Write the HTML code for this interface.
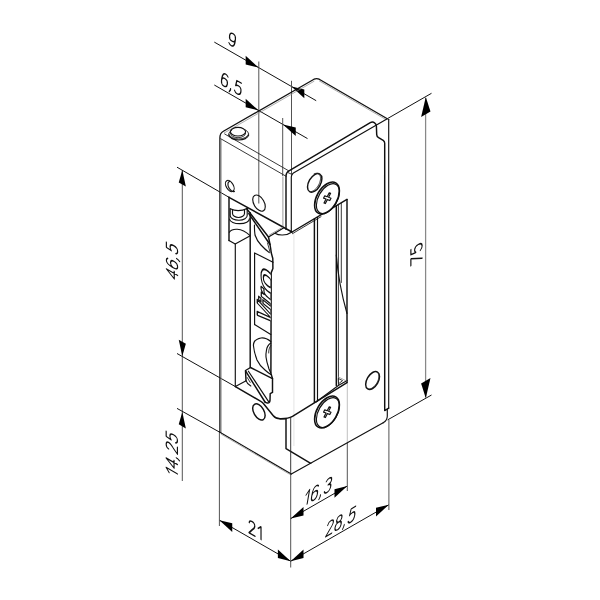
<!DOCTYPE html>
<html><head><meta charset="utf-8"><title>drawing</title>
<style>
html,body{margin:0;padding:0;background:#fff;font-family:"Liberation Sans",sans-serif;}
svg{display:block}
.k{fill:none;stroke:#111;stroke-width:1.45;stroke-linecap:round;stroke-linejoin:round}
.m{fill:none;stroke:#222;stroke-width:0.9;stroke-linecap:round;stroke-linejoin:round}
.g{fill:none;stroke:#8a8a8a;stroke-width:0.7;stroke-linecap:round}
.d{fill:none;stroke:#111;stroke-width:1.0}
.e{fill:none;stroke:#4a4a4a;stroke-width:0.95}
.e2{fill:none;stroke:#888;stroke-width:1.25}
.gd{fill:none;stroke:#bbb;stroke-width:0.8;stroke-dasharray:1 1}
.g3{fill:none;stroke:#999;stroke-width:1.0}
.g2{fill:none;stroke:#b0b0b0;stroke-width:0.8}
.kb{fill:none;stroke:#111;stroke-width:1.3;stroke-linecap:round;stroke-linejoin:round}
.k1{fill:none;stroke:#111;stroke-width:1.15;stroke-linecap:round;stroke-linejoin:round}
.a{fill:#000;stroke:none}
.t{fill:none;stroke:#111;stroke-linecap:round;stroke-linejoin:round}
.w{fill:#fff;stroke:#111;stroke-width:1.6}
</style></head><body>
<svg width="600" height="600" viewBox="0 0 600 600">
<rect width="600" height="600" fill="#fff"/>
<line class="d" x1="214.30" y1="42.10" x2="316.20" y2="100.69"/>
<polygon class="a" points="258.50,67.51 245.67,64.44 245.67,55.84"/>
<polygon class="a" points="291.50,86.49 304.33,98.17 304.33,89.57"/>
<line class="e" x1="258.80" y1="61.50" x2="258.80" y2="203.50"/>
<line class="e" x1="291.50" y1="80.80" x2="291.50" y2="174.00"/>
<line class="d" x1="214.30" y1="85.00" x2="307.50" y2="138.59"/>
<polygon class="a" points="258.50,110.41 245.67,107.34 245.67,98.74"/>
<polygon class="a" points="282.90,124.44 295.73,136.12 295.73,127.52"/>
<line class="e" x1="282.70" y1="118.00" x2="282.70" y2="176.00"/>
<line class="e2" x1="425.60" y1="98.00" x2="425.60" y2="397.00"/>
<polygon class="a" points="425.80,96.90 430.48,111.60 421.12,117.00"/>
<polygon class="a" points="425.80,398.20 430.48,378.10 421.12,383.50"/>
<line class="d" x1="388.00" y1="118.30" x2="431.50" y2="93.29"/>
<line class="d" x1="387.60" y1="419.90" x2="431.50" y2="395.00"/>
<line class="e" x1="182.30" y1="170.00" x2="182.30" y2="481.00"/>
<polygon class="a" points="182.30,170.00 185.85,186.55 178.75,182.45"/>
<polygon class="a" points="182.30,356.30 185.85,343.85 178.75,339.75"/>
<polygon class="a" points="182.30,411.90 185.85,428.45 178.75,424.35"/>
<line class="d" x1="177.00" y1="167.20" x2="229.00" y2="197.30"/>
<line class="d" x1="177.00" y1="353.50" x2="235.40" y2="386.60"/>
<line class="d" x1="177.00" y1="408.40" x2="219.90" y2="432.30"/>
<line class="d" x1="219.40" y1="520.20" x2="290.70" y2="561.20"/>
<polygon class="a" points="219.40,520.20 232.23,531.88 232.23,523.28"/>
<polygon class="a" points="290.70,561.20 277.87,558.12 277.87,549.52"/>
<line class="e" x1="219.40" y1="431.00" x2="219.40" y2="526.00"/>
<line class="e" x1="290.70" y1="474.00" x2="290.70" y2="567.50"/>
<line class="d" x1="290.70" y1="561.20" x2="388.80" y2="504.79"/>
<polygon class="a" points="290.70,561.20 303.53,558.12 303.53,549.52"/>
<polygon class="a" points="388.80,504.79 375.97,516.47 375.97,507.87"/>
<line class="e" x1="388.90" y1="420.00" x2="388.90" y2="510.00"/>
<line class="d" x1="290.70" y1="518.60" x2="347.30" y2="486.06"/>
<polygon class="a" points="290.70,518.60 303.53,515.52 303.53,506.92"/>
<polygon class="a" points="347.30,486.06 334.47,497.73 334.47,489.13"/>
<g class="t" stroke-width="1.038" transform="matrix(1.1258 0.6500 0.1689 -1.2025 231.46 45.71)"><path d="M0.7,1.2 C1.2,0.4 2,0 2.9,0 C4.6,0 5.6,1.6 5.6,5 L5.6,6.8 C5.6,8.7 4.6,10 3,10 C1.4,10 0.4,8.7 0.4,6.8 C0.4,5 1.4,3.7 3,3.7 C4.4,3.7 5.4,4.7 5.6,6" transform="translate(-3.10 0)"/></g>
<g class="t" stroke-width="1.038" transform="matrix(1.1258 0.6500 0.1689 -1.2025 230.66 90.01)"><path d="M5.3,8.8 C4.8,9.6 4,10 3.1,10 C1.4,10 0.4,8.4 0.4,5 L0.4,3.2 C0.4,1.3 1.4,0 3,0 C4.6,0 5.6,1.3 5.6,3.2 C5.6,5 4.6,6.3 3,6.3 C1.6,6.3 0.6,5.3 0.4,4" transform="translate(-9.00 0)"/><path d="M1.0,1.0 L1.0,0 L0.2,-1.8" transform="translate(-1.20 0)"/><path d="M5.2,10 L1.2,10 L0.8,5.6 C1.5,6.4 2.3,6.7 3.2,6.7 C4.8,6.7 5.8,5.3 5.8,3.3 C5.8,1.4 4.7,0 3,0 C1.8,0 0.9,0.6 0.4,1.6" transform="translate(2.80 0)"/></g>
<g class="t" stroke-width="1.038" transform="matrix(0.0000 -1.3000 -1.1258 0.6500 422.13 250.75)"><path d="M0.3,10 L5.7,10 L1.2,0" transform="translate(-6.90 0)"/><path d="M5.2,10 L1.2,10 L0.8,5.6 C1.5,6.4 2.3,6.7 3.2,6.7 C4.8,6.7 5.8,5.3 5.8,3.3 C5.8,1.4 4.7,0 3,0 C1.8,0 0.9,0.6 0.4,1.6" transform="translate(0.70 0)"/></g>
<g class="t" stroke-width="1.038" transform="matrix(0.0000 -1.3000 -1.1258 -0.6500 177.63 264.25)"><path d="M4.4,0 L4.4,10 L0.2,3 L6,3" transform="translate(-13.00 0)"/><path d="M5.3,8.8 C4.8,9.6 4,10 3.1,10 C1.4,10 0.4,8.4 0.4,5 L0.4,3.2 C0.4,1.3 1.4,0 3,0 C4.6,0 5.6,1.3 5.6,3.2 C5.6,5 4.6,6.3 3,6.3 C1.6,6.3 0.6,5.3 0.4,4" transform="translate(-5.00 0)"/><path d="M1.0,1.0 L1.0,0 L0.2,-1.8" transform="translate(2.80 0)"/><path d="M5.2,10 L1.2,10 L0.8,5.6 C1.5,6.4 2.3,6.7 3.2,6.7 C4.8,6.7 5.8,5.3 5.8,3.3 C5.8,1.4 4.7,0 3,0 C1.8,0 0.9,0.6 0.4,1.6" transform="translate(6.80 0)"/></g>
<g class="t" stroke-width="1.038" transform="matrix(0.0000 -1.3000 -1.1258 -0.6500 177.43 457.25)"><path d="M0.6,7.4 L3.2,10 L3.2,0" transform="translate(-16.00 0)"/><path d="M4.4,0 L4.4,10 L0.2,3 L6,3" transform="translate(-10.00 0)"/><path d="M1.0,1.0 L1.0,0 L0.2,-1.8" transform="translate(-2.00 0)"/><path d="M0.5,7.8 C0.6,9.1 1.6,10 3,10 C4.5,10 5.5,9.1 5.5,7.7 C5.5,6.3 4.6,5.2 3.2,3.7 L0.3,0 L5.7,0" transform="translate(2.00 0)"/><path d="M5.2,10 L1.2,10 L0.8,5.6 C1.5,6.4 2.3,6.7 3.2,6.7 C4.8,6.7 5.8,5.3 5.8,3.3 C5.8,1.4 4.7,0 3,0 C1.8,0 0.9,0.6 0.4,1.6" transform="translate(9.80 0)"/></g>
<g class="t" stroke-width="1.038" transform="matrix(1.1258 0.6500 0.0000 -1.3000 255.50 536.50)"><path d="M0.5,7.8 C0.6,9.1 1.6,10 3,10 C4.5,10 5.5,9.1 5.5,7.7 C5.5,6.3 4.6,5.2 3.2,3.7 L0.3,0 L5.7,0" transform="translate(-6.10 0)"/><path d="M0.6,7.4 L3.2,10 L3.2,0" transform="translate(1.70 0)"/></g>
<g class="t" stroke-width="1.038" transform="matrix(1.1258 -0.6500 0.2477 -1.4430 317.06 498.21)"><path d="M0.6,7.4 L3.2,10 L3.2,0" transform="translate(-12.00 0)"/><path d="M5.3,8.8 C4.8,9.6 4,10 3.1,10 C1.4,10 0.4,8.4 0.4,5 L0.4,3.2 C0.4,1.3 1.4,0 3,0 C4.6,0 5.6,1.3 5.6,3.2 C5.6,5 4.6,6.3 3,6.3 C1.6,6.3 0.6,5.3 0.4,4" transform="translate(-6.00 0)"/><path d="M1.0,1.0 L1.0,0 L0.2,-1.8" transform="translate(1.80 0)"/><path d="M0.5,8.7 C1,9.5 1.9,10 3,10 C4.5,10 5.4,9 5.4,7.7 C5.4,6.3 4.5,5.5 2.8,5.5 C4.7,5.5 5.7,4.3 5.7,2.8 C5.7,1.2 4.6,0 3,0 C1.8,0 0.8,0.6 0.3,1.7" transform="translate(5.80 0)"/></g>
<g class="t" stroke-width="1.038" transform="matrix(1.1258 -0.6500 0.2477 -1.4430 339.76 528.51)"><path d="M0.5,7.8 C0.6,9.1 1.6,10 3,10 C4.5,10 5.5,9.1 5.5,7.7 C5.5,6.3 4.6,5.2 3.2,3.7 L0.3,0 L5.7,0" transform="translate(-12.90 0)"/><path d="M3,5.5 C1.6,5.5 0.7,6.4 0.7,7.7 C0.7,9 1.6,10 3,10 C4.4,10 5.3,9 5.3,7.7 C5.3,6.4 4.4,5.5 3,5.5 C1.4,5.5 0.3,4.4 0.3,2.8 C0.3,1.2 1.4,0 3,0 C4.6,0 5.7,1.2 5.7,2.8 C5.7,4.4 4.6,5.5 3,5.5" transform="translate(-5.10 0)"/><path d="M1.0,1.0 L1.0,0 L0.2,-1.8" transform="translate(2.70 0)"/><path d="M5.2,10 L1.2,10 L0.8,5.6 C1.5,6.4 2.3,6.7 3.2,6.7 C4.8,6.7 5.8,5.3 5.8,3.3 C5.8,1.4 4.7,0 3,0 C1.8,0 0.9,0.6 0.4,1.6" transform="translate(6.70 0)"/></g>
<line class="gd" x1="293.90" y1="233.50" x2="293.90" y2="446.00"/>
<line class="g3" x1="282.90" y1="176.50" x2="282.90" y2="226.50"/>
<line class="g2" x1="347.30" y1="382.00" x2="347.30" y2="443.00"/>
<line class="e" x1="347.30" y1="443.00" x2="347.30" y2="491.00"/>
<path class="kb" d="M219.9,432.3 L219.9,137.5 Q219.9,133.2 223.4,131.2 L314.0,79.2 Q316.6,77.9 319.2,79.2 L387.3,118.7" />
<line class="g" x1="221.30" y1="139.50" x2="221.30" y2="432.80"/>
<path class="g" d="M224.3,132.9 L314,81.3" />
<path class="g" d="M319.4,81.0 L385.8,119.5" />
<line class="m" x1="220.70" y1="138.70" x2="286.20" y2="176.36"/>
<line class="m" x1="224.70" y1="134.00" x2="288.50" y2="170.69"/>
<path class="k1" d="M388.7,119.2 L388.7,408.0" />
<path class="k1" d="M387.3,409.4 L387.3,416.3 Q387.2,420.6 383.2,422.8" />
<line class="k1" x1="219.90" y1="432.30" x2="291.30" y2="474.00"/>
<line class="g" x1="221.50" y1="434.40" x2="289.50" y2="474.20"/>
<line class="k1" x1="291.30" y1="474.00" x2="383.20" y2="422.80"/>
<path class="k1" d="M228.8,135.2 A10.0,5.6 0 0 0 248.6,135.2" />
<path class="m" d="M228.8,134.2 A10.0,5.6 0 0 0 248.6,134.2" />
<path class="m" d="M228.8,135.2 L228.8,134.0 A10.0,5.6 0 0 1 231.6,130.2" />
<path class="m" d="M248.6,135.2 L248.6,134.0 A10.0,5.6 0 0 0 245.6,130.0" />
<ellipse class="k1" cx="238.00" cy="131.70" rx="7.60" ry="4.30" transform="rotate(0 238.00 131.70)" />
<path class="m" d="M230.4,132.0 A7.6,4.3 0 0 0 245.6,132.0" transform="translate(0 1.4)"/>
<ellipse class="k1" cx="229.80" cy="186.00" rx="6.12" ry="3.54" transform="rotate(60 229.80 186.00)" />
<path class="k1" d="M234.45,191.47 L234.01,191.58 L233.53,191.60 L233.02,191.52 L232.49,191.35 L231.95,191.08 L231.41,190.72 L230.87,190.29 L230.36,189.78 L229.87,189.21 L229.43,188.58 L229.03,187.92 L228.68,187.23 L228.40,186.53 L228.19,185.83 L228.04,185.14 L227.97,184.47 L227.97,183.84 L228.05,183.27 L228.20,182.76 L228.42,182.31 L228.71,181.95 L229.06,181.67 L229.46,181.49 L229.91,181.40" />
<ellipse class="k1" cx="259.00" cy="203.10" rx="8.88" ry="5.13" transform="rotate(60 259.00 203.10)" />
<ellipse class="k" cx="258.90" cy="411.90" rx="8.82" ry="5.09" transform="rotate(60 258.90 411.90)" />
<line class="k" x1="229.00" y1="197.30" x2="292.00" y2="232.00"/>
<path class="k" d="M229.0,197.3 L229.0,240.4" />
<path class="k1" d="M235.3,244.0 L235.3,386.6" />
<path class="k1" d="M235.4,386.6 L245.7,381.0" />
<path class="k" d="M235.4,386.6 L260.4,401.2 Q262.6,402.4 264.0,404.2 L273.3,415.8 Q275.8,418.8 280,418.8 L286,418.7" />
<path class="k1" d="M229.0,240.4 L235.2,244.0 L249.8,236.0" />
<path class="k1" d="M230.2,208.8 Q238.5,212.6 247.2,208.4" />
<path class="k1" d="M232.5,210.2 L232.5,213.5 A6.0,4.0 0 0 0 244.5,213.5 L244.5,209.8" />
<path class="k1" d="M230.2,208.8 L230.2,215.8 A8.5,4.6 0 0 0 247.2,215.4 L247.2,208.4" />
<path class="k1" d="M229.6,219.2 A9.8,4.6 0 0 0 249.4,218.8" />
<path class="k1" d="M229.4,232.2 C232,228.3 241,227.2 249.8,235.4" />
<line class="k" x1="250.20" y1="212.60" x2="250.20" y2="367.30"/>
<path class="k" d="M246.5,208.5 L268.5,237.0 L283.4,228.0" />
<line class="g3" x1="268.90" y1="235.30" x2="282.60" y2="227.30"/>
<path class="k" d="M248.8,213.6 L270.0,244.5" />
<line class="m" x1="267.50" y1="243.00" x2="270.00" y2="252.00"/>
<path class="k1" d="M254.5,225 C254.3,229 254.6,232 255,235 C256.5,239.5 258.5,242.5 261,245 C263.5,247.8 266.5,250.5 269.3,252.6" />
<path class="k" d="M268.5,237 L270,244.5 L270.6,248 L271.3,253 L272.8,258.5 L272.9,268.5 L271.2,272.6 L270.9,373.2 L272.5,378.6" />
<path class="k1" d="M254.6,324.6 L254.6,252.9 L273.0,262.3" />
<path class="k1" d="M254.6,324.6 L270.8,334.4" />
<clipPath id="lc"><polygon points="240,240 269,240 270.3,253 272.6,259 272.6,268.4 270.8,272.6 270.5,340 240,340"/></clipPath>
<g clip-path="url(#lc)" fill="#fff" stroke="#111" stroke-linejoin="round"><path d="M737 0H398L171 1409H476L590 504Q606 357 612 238Q659 344 687.5 405.0Q716 466 1201 1409H1509Z" stroke-width="117.2" transform="matrix(0 -0.0117 -0.01212 -0.00700 274.4 327.0)"/><path d="M282 1277 323 1484H604L563 1277ZM35 0 245 1082H526L315 0Z" stroke-width="121.5" transform="matrix(0 -0.0125 -0.01057 -0.00610 274.4 313.0)"/><path d="M844 853Q775 868 730 868Q607 868 529.5 781.0Q452 694 417 514L316 0H35L196 830Q220 950 238 1082H506L484 910L476 861H480Q553 995 624.0 1048.5Q695 1102 787 1102Q834 1102 890 1088Z" stroke-width="103.5" transform="matrix(0 -0.015 -0.01212 -0.00700 274.4 307.5)"/><path d="M1185 683Q1185 476 1103.5 315.0Q1022 154 872.5 67.0Q723 -20 535 -20Q317 -20 190.0 97.5Q63 215 63 419Q63 620 142.5 775.0Q222 930 369.0 1015.5Q516 1101 704 1101Q939 1101 1062.0 991.5Q1185 882 1185 683ZM891 662Q891 909 683 909Q569 909 501.5 849.0Q434 789 396.0 666.5Q358 544 358 431Q358 172 566 172Q678 172 743.5 228.5Q809 285 846.5 400.0Q884 515 891 662Z" stroke-width="93.5" transform="matrix(0 -0.0184 -0.01212 -0.00700 274.4 296.5)"/></g>
<path class="k1" d="M270.8,341.5 C267,338.5 263.5,337.6 261,338 C256,339 253,342 253.5,346 C254,351 255.5,356 257,360 C259,364.5 262,367.5 265,370 C267,371.8 269,373.5 270.8,374.5" />
<path class="k1" d="M270.8,343 C268,345 266.8,347.5 266.5,350 C266,352.5 265.8,354.5 266,357 C266.5,361.5 267.8,365.5 269,369 L270.8,373" />
<path class="m" d="M270.8,345.5 C269.3,347.5 268.6,350 268.7,353" />
<path class="k" d="M250.5,367.5 L245.5,370.5 L246.0,380.6" />
<path class="k" d="M250.5,367.5 L272.5,378.6 L272.5,392.4 L270.2,393.6 L270.0,400.4 Q269.8,403.2 267.4,403.0 Q265.8,402.8 265.0,402.0" />
<path class="k" d="M245.7,371.2 L265.0,402.0" />
<path class="k1" d="M248.4,371.2 L268.6,401.6" />
<path class="k1" d="M246.0,380.6 C246.8,383 248.5,384.8 250.8,386.0" />
<path class="m" d="M247.2,377.5 L250.2,382.4" />
<path class="k" d="M286.0,229.2 L286.0,176.0 Q286.0,172.6 289.0,170.9 L370.3,122.6 Q372.6,121.4 374.6,122.8 Q376.4,124.0 376.4,126.2 L376.7,134.6 Q376.8,136.6 378.6,137.6 L383.2,140.4 Q384.7,141.4 384.7,143.2 L384.7,410.6 L388.7,408.2" />
<path class="k1" d="M291.3,231.2 L291.3,177.0 Q291.3,174.4 293.4,173.1 L387.3,118.7" />
<line class="m" x1="288.00" y1="172.60" x2="292.40" y2="174.60"/>
<path class="k1" d="M275.5,233.5 C278,235.3 286,236.3 292,232" />
<line class="k" x1="292.00" y1="232.00" x2="347.00" y2="199.40"/>
<line class="m" x1="292.40" y1="233.70" x2="321.00" y2="216.70"/>
<line class="k" x1="347.00" y1="199.40" x2="347.00" y2="382.20"/>
<line class="k" x1="314.40" y1="219.00" x2="314.40" y2="402.60"/>
<line class="k1" x1="317.50" y1="217.50" x2="317.50" y2="401.00"/>
<line class="k" x1="336.30" y1="206.00" x2="336.30" y2="385.60"/>
<line class="m" x1="338.40" y1="205.00" x2="338.40" y2="385.00"/>
<line class="m" x1="341.30" y1="203.40" x2="341.30" y2="282.50"/>
<path class="k1" d="M336.3,255.0 C337.3,268 340.6,291 347.0,313.5" />
<path class="k" d="M280.0,418.7 C285,418.8 289,418.4 292.5,416.4 L347.0,382.6" />
<path class="k1" d="M316.0,402.0 L338.7,385.2 L347.2,380.6" />
<path class="k" d="M286.0,419.0 L286.0,448.7 L310.7,463.3" />
<line class="m" x1="290.70" y1="417.50" x2="290.70" y2="474.00"/>
<path class="m" d="M338.6,378.6 L342.6,380.6 L338.8,383.6 Z" />
<path class="g" d="M338.4,377.0 L346.5,381.0" />
<ellipse class="k" cx="314.70" cy="182.90" rx="10.17" ry="5.87" transform="rotate(-60 314.70 182.90)" />
<path class="m" d="M314.04,173.94 L315.01,173.55 L315.95,173.33 L316.84,173.29 L317.67,173.43 L318.41,173.73 L319.06,174.21 L319.60,174.84 L320.03,175.62 L320.32,176.53 L320.49,177.55 L320.52,178.67 L320.41,179.86 L320.17,181.10 L319.80,182.37 L319.31,183.64 L318.71,184.89 L318.00,186.09 L317.21,187.22 L316.35,188.27 L315.42,189.20 L314.46,190.01 L313.48,190.67 L312.50,191.18 L311.54,191.52" />
<ellipse class="k" cx="372.60" cy="380.50" rx="9.80" ry="5.66" transform="rotate(-60 372.60 380.50)" />
<path class="m" d="M378.28,373.09 L378.55,373.72 L378.76,374.41 L378.88,375.17 L378.93,375.98 L378.90,376.84 L378.80,377.74 L378.62,378.66 L378.36,379.60 L378.04,380.54 L377.65,381.48 L377.20,382.40 L376.68,383.30 L376.12,384.16 L375.51,384.98 L374.86,385.74 L374.18,386.44 L373.48,387.07 L372.76,387.62 L372.03,388.09 L371.30,388.47 L370.57,388.75 L369.87,388.94 L369.19,389.04 L368.54,389.03" />
<ellipse class="w" cx="327.00" cy="198.00" rx="17.51" ry="10.11" transform="rotate(-60 327.00 198.00)" />
<ellipse class="k1" cx="327.90" cy="198.60" rx="16.29" ry="9.40" transform="rotate(-60 327.90 198.60)" />
<polygon class="k1" stroke-linejoin="round" points="324.77,195.84 327.19,196.79 329.22,192.82 330.61,193.36 328.58,197.33 331.00,198.28 329.83,200.56 327.41,199.61 325.38,203.58 323.99,203.04 326.02,199.07 323.60,198.12"/>
<ellipse class="w" cx="327.00" cy="412.00" rx="17.51" ry="10.11" transform="rotate(-60 327.00 412.00)" />
<ellipse class="k1" cx="327.90" cy="412.60" rx="16.29" ry="9.40" transform="rotate(-60 327.90 412.60)" />
<polygon class="k1" stroke-linejoin="round" points="324.77,409.84 327.19,410.79 329.22,406.82 330.61,407.36 328.58,411.33 331.00,412.28 329.83,414.56 327.41,413.61 325.38,417.58 323.99,417.04 326.02,413.07 323.60,412.12"/>
</svg>
</body></html>
